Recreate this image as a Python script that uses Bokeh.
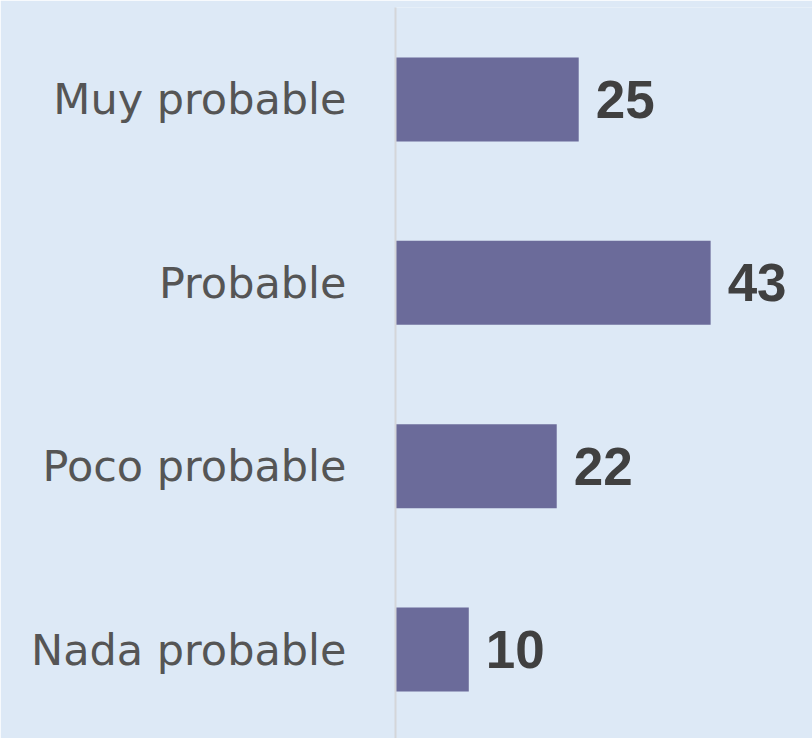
from bokeh.plotting import figure
from bokeh.models import Range1d, FixedTicker, ColumnDataSource
from bokeh.core.properties import value
from bokeh.embed import file_html
from bokeh.resources import INLINE

categories = ["Muy probable", "Probable", "Poco probable", "Nada probable"]
values = [25, 43, 22, 10]
labels = ["25", "43", "22", "10"]

BG = "#dde9f6"
positions = list(range(len(categories)))

src = ColumnDataSource(dict(y=positions, v=values, lab=labels))

p = figure(width=812, height=738, output_backend="svg", toolbar_location=None,
           x_range=Range1d(0, 56.9), y_range=Range1d(3.485, -0.501),
           min_border_left=395, min_border_right=0, min_border_top=7, min_border_bottom=0)
p.background_fill_color = BG
p.border_fill_color = BG
p.outline_line_color = None
p.xgrid.visible = False
p.ygrid.visible = False
p.xaxis.visible = False

p.hbar(y="y", right="v", left=0, height=0.458, source=src,
       fill_color="#6b6b9a", line_color=None)

p.text(x="v", y="y", text="lab", source=src, x_offset=17,
       text_baseline="middle", text_align="left",
       text_font=value("Liberation Sans"), text_font_style="bold",
       text_font_size="53px", text_color="#404040")

ya = p.yaxis[0]
ya.ticker = FixedTicker(ticks=positions)
ya.major_label_overrides = {i: c for i, c in zip(positions, categories)}
ya.major_tick_line_color = None
ya.minor_tick_line_color = None
ya.axis_line_color = "#d4d6d9"
ya.axis_line_width = 2
ya.major_label_standoff = 43
ya.major_label_text_font = "DejaVu Sans"
ya.major_label_text_font_size = "43px"
ya.major_label_text_color = "#555555"

html = file_html(p, INLINE)
html = html.replace("<body>", '<body style="background:%s">' % BG, 1)
open("out.html", "w").write(html)
